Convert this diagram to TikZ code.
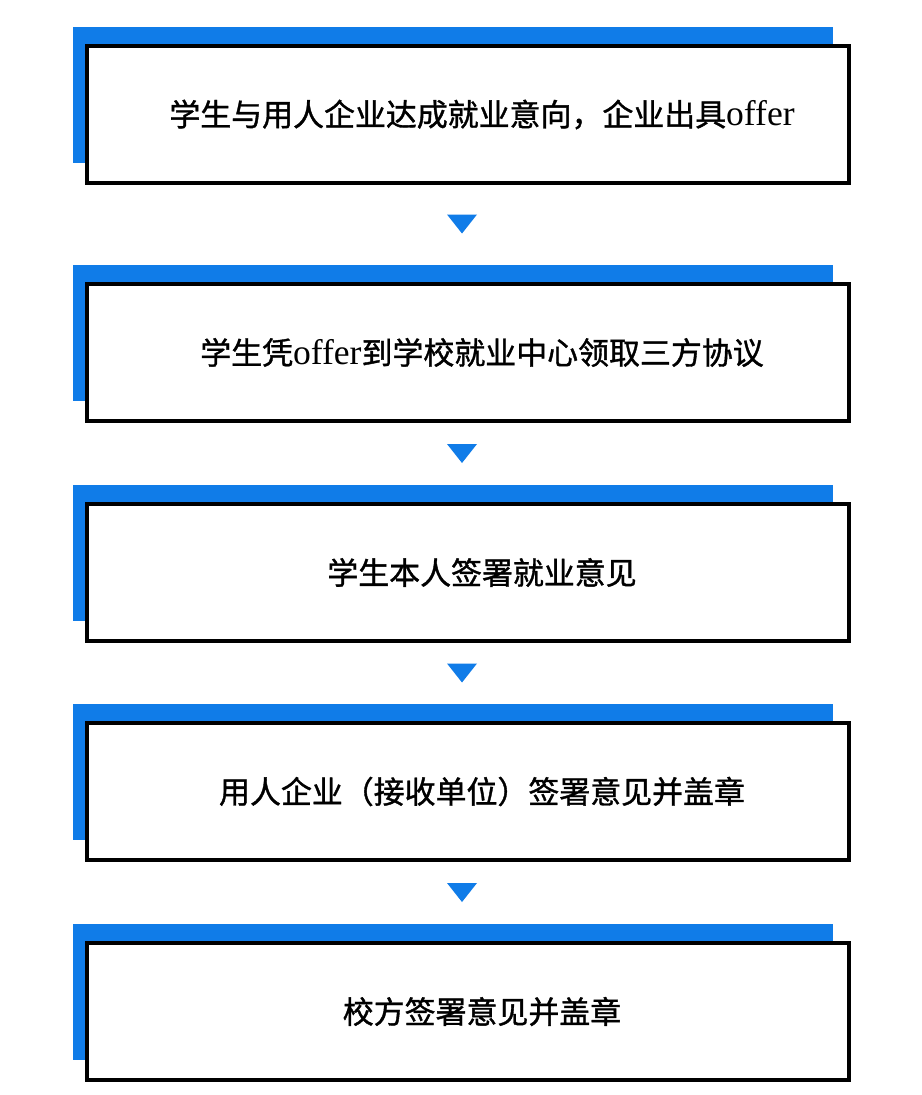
\documentclass[tikz,border=0pt]{standalone}
\usepackage{fontspec}
\newfontfamily\cjk[FakeBold=1.2]{Noto Sans CJK SC}
\newfontfamily\lat[Scale=1.15]{Liberation Serif}
\definecolor{stepblue}{RGB}{16,124,232}
\begin{document}
\begin{tikzpicture}[x=0.75pt,y=-0.75pt,
  backbar/.style={fill=stepblue,draw=none},
  stepbox/.style={draw=black,line width=2.4pt,fill=white},
  steptext/.style={font=\fontsize{23.2}{27}\selectfont\cjk,inner sep=0pt,anchor=center},
  downtri/.style={fill=stepblue,draw=none}]
\useasboundingbox[fill=white] (0,0) rectangle (921,1095);
% blue bars and boxes
\foreach \bt/\kt [count=\i] in {27/46,265/284,485/504,704/723,924/943}{
  \fill[backbar] (73,\bt) rectangle (833,\bt+136);
  \draw[stepbox] (87,\kt) rectangle (849,\kt+137);
  \coordinate (c\i) at (482,\kt+68.5);
}
\node[steptext] (t1) at (c1) {学生与用人企业达成就业意向，企业出具{\lat offer}};
\node[steptext] (t2) at (c2) {学生凭{\lat offer}到学校就业中心领取三方协议};
\node[steptext] (t3) at (c3) {学生本人签署就业意见};
\node[steptext] (t4) at (c4) {用人企业（接收单位）签署意见并盖章};
\node[steptext] (t5) at (c5) {校方签署意见并盖章};
% arrows
\foreach \ay in {224,453.5,673,892.5}{
  \fill[downtri] (447,\ay-9.5) -- (477,\ay-9.5) -- (462,\ay+9.5) -- cycle;
}
\end{tikzpicture}
\end{document}
